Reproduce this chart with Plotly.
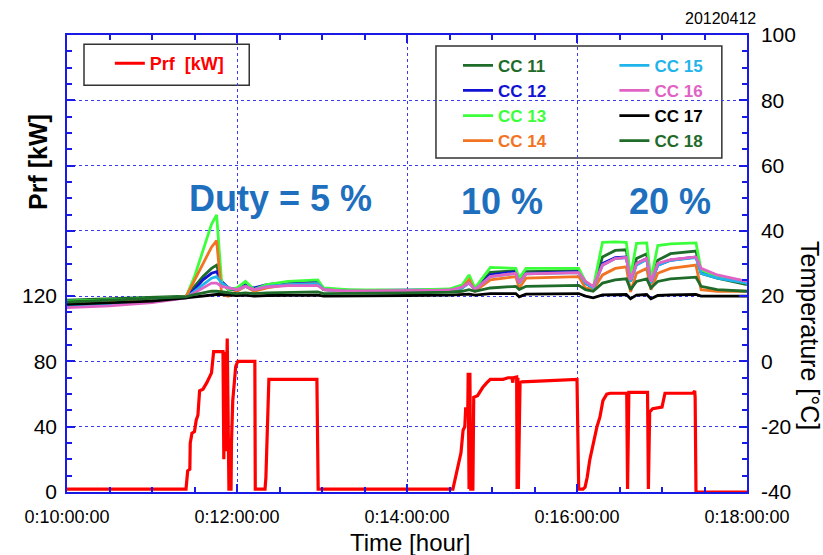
import plotly.graph_objects as go

# ---------------- data ----------------
prf_time = [10.0, 11.38, 11.40, 11.42, 11.445, 11.45, 11.47, 11.50, 11.52, 11.54, 11.56, 11.60, 11.645,
            11.70, 11.715, 11.725, 11.835, 11.845, 11.855, 11.865, 11.885, 11.90, 11.905, 11.93, 11.935,
            11.95, 11.985, 12.01, 12.21, 12.215, 12.33, 12.34, 12.355, 12.375, 12.94, 12.945, 12.955,
            14.54, 14.59, 14.60, 14.635, 14.66, 14.68, 14.69, 14.715, 14.72, 14.73, 14.74, 14.75, 14.775,
            14.785, 14.83, 14.86, 14.89, 14.94, 14.98, 15.13, 15.19, 15.235, 15.245, 15.25, 15.29, 15.295,
            15.305, 15.31, 15.33, 15.35, 15.65, 16.0, 16.02, 16.07, 16.095, 16.12, 16.15, 16.19, 16.235,
            16.27, 16.305, 16.35, 16.39, 16.585, 16.595, 16.61, 16.83, 16.84, 16.855, 16.89, 17.0, 17.035,
            17.365, 17.385, 17.39, 17.40, 18.0]
prf_kw = [1.8, 1.8, 1.8, 13, 14, 30, 36, 37, 44, 47, 62, 63, 67,
          73, 79, 86, 86, 20, 86, 25, 94, 10, 1.8, 1.8, 30,
          56, 77, 80, 80, 1.8, 1.8, 9, 36, 69, 69, 15, 1.8,
          1.8, 13.5, 15, 24, 38, 40, 51, 51, 73, 1.8, 73, 1.8, 1.8,
          58, 59, 62, 64, 67, 69, 69, 70, 70, 67, 70, 70.5, 1.8,
          70, 1.8, 67, 67.5, 68, 69, 1.8, 1.8, 3, 9, 19.6, 30, 40,
          46, 56, 60, 60.5, 60.5, 1.8, 61, 61, 1.8, 49, 51, 52, 60.5,
          60.5, 62, 58, 0, 0]

temp_time = [10.0, 10.5, 11.0, 11.4, 11.5, 11.6, 11.7, 11.76, 11.82, 11.9, 12.0, 12.1, 12.2, 12.35, 12.6,
             12.95, 13.02, 13.3, 14.0, 14.5, 14.65, 14.73, 14.8, 14.98, 15.28, 15.32, 15.4, 16.02, 16.1,
             16.19, 16.3, 16.45, 16.58, 16.63, 16.7, 16.82, 16.87, 16.95, 17.1, 17.4, 17.46, 17.65, 18.0]

cc11 = [18.8, 19.2, 19.5, 20, 23, 26, 28.5, 29.5, 24, 22, 22, 23.5, 22, 23, 24,
        24.3, 22, 21.8, 21.5, 21.8, 22.5, 24.5, 22, 27.3, 27.8, 24.8, 27.5, 27.8, 24,
        22.5, 32, 34, 34.2, 25, 31.5, 33, 24.5, 31, 33, 33.8, 27, 25.5, 23.5]
cc12 = [18, 18.5, 19, 19.8, 22, 25, 27, 27.5, 24.5, 22.5, 22, 23.5, 22.5, 23.5, 24.2,
        24.3, 22, 21.7, 21.8, 22, 23, 24.5, 22, 26.5, 27.5, 24.5, 27, 27.5, 24,
        22.5, 30, 31.8, 32, 24.5, 30, 31.5, 24, 29.5, 31, 32, 27.5, 26, 24.5]
cc13 = [18.5, 18.8, 19.2, 19.8, 26, 34, 42, 44.9, 24, 22, 22.5, 24.5, 22, 23.5, 24.5,
        25, 22.5, 22, 21.8, 22.2, 23.5, 26.5, 22.5, 28.8, 28.5, 25.5, 28.5, 28.5, 24.5,
        22.5, 36.5, 36.6, 36.5, 26, 36.2, 36.3, 25, 35.5, 36, 36.3, 28, 26, 24]
cc14 = [18, 18.5, 19, 19.8, 25, 30, 35, 37, 20.5, 20, 21.5, 23, 21.5, 22.5, 23.5,
        23.8, 22, 21.5, 21.5, 21.8, 22.5, 25, 21.5, 25, 26, 22.5, 25.5, 26, 22.5,
        22, 26.5, 28.5, 29, 21.3, 27, 28.5, 22, 27, 28.5, 29.5, 22, 21.5, 21.5]
cc15 = [17, 17.5, 18.5, 19.5, 21.5, 23.5, 25.5, 26, 24, 22.5, 22, 23, 22, 23, 23.5,
        23.8, 22, 21.5, 21.5, 21.8, 22.5, 24, 22, 26, 27, 24, 26.8, 27.2, 24,
        22.5, 29.5, 31.5, 31.8, 24.5, 29.5, 31.2, 24, 29.5, 31, 31.8, 27, 25.5, 24]
cc16 = [16.5, 17, 18, 19.5, 21, 22.5, 24, 24, 23, 22.5, 22, 23, 22, 22.8, 23.2,
        23.2, 22, 21.5, 21.6, 21.8, 22.8, 24, 22, 26, 27, 24.2, 26.8, 27.2, 24.5,
        23, 29.5, 31.5, 31.8, 25, 30, 31.5, 24.5, 30, 31.2, 32, 28.5, 26.5, 24.5]
cc17 = [17.5, 18, 18.5, 19.5, 19.8, 20, 20.3, 20.5, 20.5, 20.3, 20.2, 20.3, 20, 20.2, 20.3,
        20.3, 20, 20, 20.2, 20.3, 20.5, 20.6, 20.3, 20.8, 20.8, 19.8, 20.6, 20.8, 20,
        19.5, 20.4, 20.5, 20.5, 19.2, 20.3, 20.5, 19.2, 20.2, 20.4, 20.5, 20, 20, 20]
cc18 = [18.2, 18.8, 19.3, 19.8, 20.5, 21, 21.5, 21.5, 21.3, 21, 20.8, 21, 20.8, 21, 21.2,
        21.3, 20.8, 20.8, 21, 21.2, 21.5, 22, 21.5, 22.5, 23, 22, 23, 23.3, 22,
        21.5, 24, 25, 25.3, 22, 24.5, 25.3, 22.5, 24.5, 25.3, 25.8, 23, 22, 21.5]

x_tickvals = [10, 12, 14, 16, 18]
x_ticktext = ["0:10:00:00", "0:12:00:00", "0:14:00:00", "0:16:00:00", "0:18:00:00"]
prf_tickvals = [0, 40, 80, 120, 160, 200, 240]
prf_ticktext = ["0", "40", "80", "120", "", "", ""]
temp_tickvals = [-40, -20, 0, 20, 40, 60, 80, 100]
temp_ticktext = ["-40", "-20", "0", "20", "40", "60", "80", "100"]

# ---------------- styles ----------------
FONT = "Liberation Sans, Arial, sans-serif"
AXC = "#1a1ae6"
GRIDC = "#3a3af0"
DUTYC = "#1f6fbf"

series = [
    ("CC 11", cc11, "#1e6b2a", "legend2"),
    ("CC 12", cc12, "#1212d2", "legend2"),
    ("CC 13", cc13, "#3cff3c", "legend2"),
    ("CC 14", cc14, "#f27322", "legend2"),
    ("CC 15", cc15, "#1fb4ea", "legend3"),
    ("CC 16", cc16, "#e062c4", "legend3"),
    ("CC 17", cc17, "#000000", "legend3"),
    ("CC 18", cc18, "#1e6b2a", "legend3"),
]

fig = go.Figure()

fig.add_trace(go.Scatter(
    x=prf_time, y=prf_kw, mode="lines", line=dict(color="#ff0000", width=3.2),
    name="<b><span style='color:#ff0000'>Prf\u00a0\u00a0[kW]</span></b>", yaxis="y", legend="legend"))

for name, vals, col, lg in series:
    fig.add_trace(go.Scatter(
        x=temp_time, y=vals, mode="lines", line=dict(color=col, width=2.8),
        name="<b><span style='color:%s'>%s</span></b>" % (col, name), yaxis="y2", legend=lg))

axis_common = dict(showline=True, linecolor=AXC, linewidth=1.5, ticks="inside", tickcolor=AXC,
                   tickwidth=1.5, zeroline=False,
                   tickfont=dict(family=FONT, size=21, color="black"))

fig.update_layout(
    width=823, height=555,
    margin=dict(l=67, r=76, t=35, b=63, pad=0),
    paper_bgcolor="white", plot_bgcolor="white",
    font=dict(family=FONT, color="black"),
    xaxis=dict(range=[10, 18], tickmode="array", tickvals=x_tickvals, ticktext=x_ticktext,
               showline=True, linecolor=AXC, linewidth=1.5, ticks="inside", tickcolor=AXC, tickwidth=1.5,
               ticklen=8, mirror="ticks", zeroline=False, ticklabelstandoff=8,
               tickfont=dict(family=FONT, size=18, color="black"),
               showgrid=True, gridcolor=GRIDC, griddash="dot", gridwidth=1.3,
               minor=dict(tickmode="linear", tick0=10, dtick=0.5, ticks="inside", ticklen=5,
                          tickcolor=AXC, tickwidth=1.5, showgrid=False)),
    yaxis=dict(range=[0, 280], tickmode="array", tickvals=prf_tickvals, ticktext=prf_ticktext,
               ticklen=8, showgrid=True, gridcolor=GRIDC, griddash="dot", gridwidth=1.3,
               ticklabelstandoff=4,
               minor=dict(tickmode="linear", tick0=0, dtick=10, ticks="inside", ticklen=5,
                          tickcolor=AXC, tickwidth=1.5, showgrid=False),
               **axis_common),
    yaxis2=dict(range=[-40, 100], overlaying="y", side="right", tickmode="array",
                tickvals=temp_tickvals, ticktext=temp_ticktext,
                ticklen=8, showgrid=False, ticklabelstandoff=8,
                minor=dict(tickmode="linear", tick0=-40, dtick=5, ticks="inside", ticklen=5,
                           tickcolor=AXC, tickwidth=1.5, showgrid=False),
                **axis_common),
    showlegend=True,
    legend=dict(x=0.063, y=0.978, xanchor="left", yanchor="top", bgcolor="rgba(0,0,0,0)",
                borderwidth=0, font=dict(family=FONT, size=18)),
    legend2=dict(x=0.575, y=0.972, xanchor="left", yanchor="top", bgcolor="rgba(0,0,0,0)",
                 borderwidth=0, font=dict(family=FONT, size=17), tracegroupgap=0),
    legend3=dict(x=0.805, y=0.972, xanchor="left", yanchor="top", bgcolor="rgba(0,0,0,0)",
                 borderwidth=0, font=dict(family=FONT, size=17), tracegroupgap=0),
    shapes=[
        dict(type="rect", xref="paper", yref="paper", x0=0.025, x1=0.268, y0=0.890, y1=0.980,
             line=dict(color="#333333", width=1.5), fillcolor="white", layer="between"),
        dict(type="rect", xref="paper", yref="paper", x0=0.5426, x1=0.963, y0=0.731, y1=0.976,
             line=dict(color="#333333", width=1.5), fillcolor="white", layer="between"),
    ],
    annotations=[
        dict(text="<b>Duty = 5 %</b>", x=12.506, y=50.0, xref="x", yref="y2", showarrow=False,
             font=dict(family=FONT, size=36, color=DUTYC)),
        dict(text="<b>10 %</b>", x=15.118, y=48.9, xref="x", yref="y2", showarrow=False,
             font=dict(family=FONT, size=36, color=DUTYC)),
        dict(text="<b>20 %</b>", x=17.094, y=48.9, xref="x", yref="y2", showarrow=False,
             font=dict(family=FONT, size=36, color=DUTYC)),
        dict(text="20120412", x=1.016, y=1.037, xref="paper", yref="paper", xanchor="right",
             yanchor="middle", showarrow=False, font=dict(family=FONT, size=16, color="black")),
        dict(text="<b>Prf [kW]</b>", x=38, y=162, xref="paper", yref="paper", showarrow=False,
             xanchor="center", yanchor="middle",
             textangle=-90, font=dict(family=FONT, size=25, color="black")),
        dict(text="Temperature [\u00b0C]", x=810, y=336, xref="paper", yref="paper", showarrow=False,
             xanchor="center", yanchor="middle",
             textangle=90, font=dict(family=FONT, size=25, color="black")),
        dict(text="Time [hour]", x=410, y=542, xref="paper", yref="paper", showarrow=False,
             xanchor="center", yanchor="middle",
             font=dict(family=FONT, size=24, color="black")),
    ],
)

# convert pixel-placed titles to paper coordinates
W, H, L, R, T, B = 823, 555, 67, 76, 35, 63
pw, ph = W - L - R, H - T - B
for a in fig.layout.annotations[4:]:
    a.x = (a.x - L) / pw
    a.y = (H - B - a.y) / ph

fig.write_html("out.html")
